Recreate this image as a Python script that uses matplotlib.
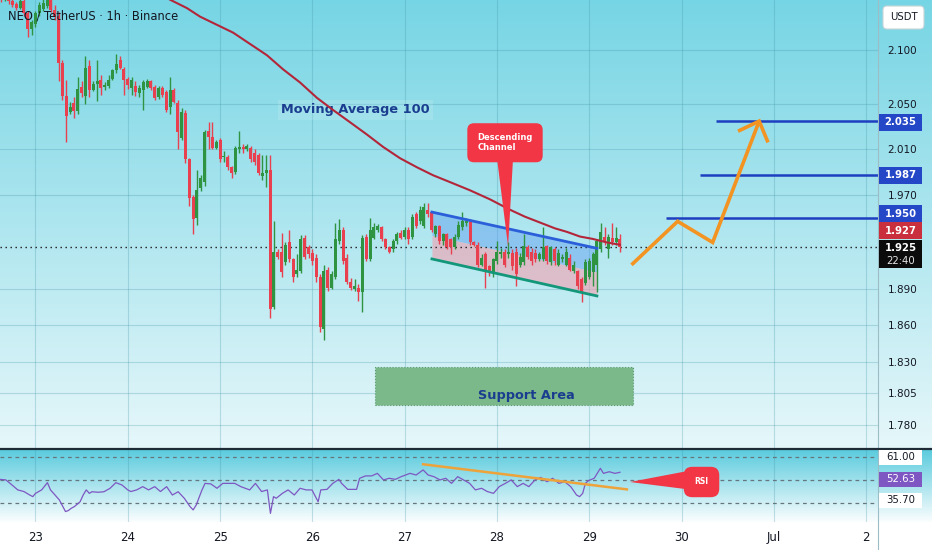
import numpy as np
import matplotlib
matplotlib.use("Agg")
import matplotlib.pyplot as plt
from matplotlib.patches import Polygon, Rectangle, FancyBboxPatch
from matplotlib.lines import Line2D
from matplotlib.transforms import IdentityTransform
from matplotlib.ticker import NullLocator, NullFormatter, FixedLocator, FixedFormatter

# ---------------- data (hourly candles, hour 0 = 23 Jun 00:00) ----------------
start_hour = -9
opens = [2.154,2.149,2.152,2.146,2.143,2.139,2.146,2.134,2.119,2.124,
         2.134,2.138,2.141,2.148,2.137,2.132,2.088,2.058,2.043,2.051,
         2.044,2.066,2.058,2.085,2.063,2.069,2.072,2.066,2.067,2.073,
         2.081,2.091,2.082,2.073,2.065,2.067,2.060,2.063,2.066,2.071,
         2.066,2.057,2.065,2.061,2.048,2.063,2.051,2.020,2.042,2.001,
         1.968,1.950,1.976,1.981,2.026,2.021,2.011,2.018,2.003,2.003,
         1.994,1.990,2.010,2.012,2.010,2.011,2.007,2.005,1.986,1.989,
         1.992,1.875,1.921,1.921,1.912,1.929,1.915,1.902,1.905,1.933,
         1.925,1.920,1.916,1.900,1.857,1.906,1.891,1.900,1.930,1.940,
         1.916,1.896,1.890,1.891,1.887,1.934,1.915,1.933,1.940,1.942,
         1.932,1.925,1.923,1.930,1.937,1.934,1.940,1.934,1.953,1.947,
         1.943,1.957,1.955,1.936,1.943,1.930,1.936,1.932,1.925,1.934,
         1.942,1.946,1.947,1.929,1.927,1.910,1.919,1.909,1.902,1.913,
         1.919,1.921,1.919,1.920,1.921,1.910,1.912,1.925,1.921,1.920,
         1.915,1.915,1.926,1.912,1.923,1.910,1.915,1.910,1.916,1.905,
         1.905,1.898,1.895,1.900,1.904,1.910,1.923,1.934,1.923,1.933,
         1.929,1.932]
highs = [2.160,2.156,2.154,2.148,2.145,2.150,2.150,2.136,2.128,2.136,
         2.145,2.149,2.152,2.154,2.142,2.135,2.091,2.072,2.052,2.057,
         2.075,2.071,2.094,2.091,2.071,2.091,2.077,2.070,2.077,2.082,
         2.096,2.094,2.084,2.075,2.075,2.071,2.068,2.072,2.073,2.072,
         2.068,2.067,2.067,2.063,2.075,2.065,2.054,2.047,2.045,2.002,
         1.970,1.992,1.987,2.027,2.034,2.034,2.018,2.020,2.008,2.005,
         1.995,2.013,2.026,2.015,2.015,2.013,2.010,2.007,2.005,2.005,
         2.005,1.947,1.923,1.937,1.929,1.940,1.916,1.919,1.935,1.935,
         1.927,1.923,1.919,1.902,1.910,1.908,1.905,1.946,1.949,1.942,
         1.919,1.899,1.898,1.894,1.935,1.936,1.950,1.946,1.945,1.943,
         1.933,1.926,1.932,1.938,1.940,1.942,1.942,1.953,1.955,1.960,
         1.963,1.963,1.956,1.944,1.944,1.937,1.937,1.933,1.936,1.947,
         1.955,1.950,1.949,1.930,1.929,1.919,1.921,1.910,1.916,1.930,
         1.924,1.923,1.929,1.923,1.924,1.920,1.936,1.927,1.924,1.923,
         1.921,1.942,1.927,1.926,1.925,1.923,1.919,1.924,1.919,1.913,
         1.906,1.900,1.915,1.916,1.921,1.932,1.946,1.942,1.936,1.946,
         1.942,1.936]
lows = [2.145,2.146,2.143,2.140,2.137,2.138,2.132,2.112,2.114,2.121,
        2.132,2.136,2.139,2.135,2.128,2.071,2.054,2.016,2.041,2.038,
        2.041,2.057,2.050,2.057,2.062,2.053,2.059,2.063,2.065,2.072,
        2.079,2.082,2.059,2.064,2.059,2.058,2.057,2.045,2.065,2.063,
        2.054,2.055,2.057,2.043,2.041,2.051,2.010,2.018,1.998,1.960,
        1.936,1.944,1.973,1.978,2.010,2.010,2.010,1.999,1.999,1.992,
        1.985,1.988,2.007,2.007,2.008,1.999,1.996,1.987,1.983,1.977,
        1.866,1.873,1.915,1.900,1.910,1.912,1.896,1.900,1.903,1.915,
        1.916,1.910,1.896,1.854,1.848,1.888,1.890,1.898,1.928,1.911,
        1.894,1.889,1.888,1.880,1.871,1.913,1.913,1.932,1.938,1.930,
        1.923,1.920,1.921,1.928,1.932,1.932,1.928,1.932,1.941,1.945,
        1.941,1.951,1.938,1.934,1.928,1.927,1.923,1.919,1.923,1.932,
        1.940,1.943,1.927,1.926,1.908,1.909,1.891,1.901,1.900,1.911,
        1.916,1.908,1.916,1.906,1.892,1.908,1.910,1.915,1.910,1.912,
        1.913,1.913,1.911,1.910,1.910,1.909,1.912,1.909,1.905,1.903,
        1.890,1.879,1.893,1.898,1.892,1.887,1.921,1.927,1.916,1.927,
        1.927,1.921]
closes = [2.149,2.152,2.146,2.142,2.139,2.146,2.134,2.119,2.126,2.134,
          2.142,2.144,2.148,2.137,2.132,2.088,2.058,2.040,2.048,2.044,
          2.064,2.060,2.083,2.063,2.069,2.071,2.065,2.068,2.072,2.081,
          2.087,2.083,2.072,2.068,2.072,2.061,2.065,2.070,2.071,2.065,
          2.056,2.065,2.059,2.045,2.063,2.052,2.025,2.043,2.001,1.967,
          1.949,1.974,1.985,2.025,2.021,2.011,2.016,2.001,2.003,1.994,
          1.989,2.011,2.012,2.010,2.013,2.001,1.999,1.989,1.989,1.992,
          1.873,1.921,1.917,1.904,1.927,1.915,1.900,1.906,1.932,1.917,
          1.919,1.913,1.900,1.858,1.905,1.891,1.902,1.932,1.940,1.913,
          1.896,1.891,1.892,1.887,1.933,1.915,1.940,1.942,1.943,1.932,
          1.925,1.921,1.930,1.936,1.933,1.940,1.932,1.951,1.943,1.957,
          1.959,1.953,1.940,1.943,1.930,1.936,1.925,1.925,1.934,1.944,
          1.947,1.947,1.929,1.927,1.910,1.916,1.904,1.904,1.915,1.921,
          1.921,1.910,1.921,1.909,1.902,1.917,1.926,1.917,1.913,1.915,
          1.919,1.925,1.913,1.925,1.913,1.920,1.917,1.921,1.906,1.910,
          1.892,1.888,1.912,1.913,1.919,1.930,1.938,1.929,1.934,1.929,
          1.933,1.925]

ma_hours = [33.0, 35.0, 39.4, 42.8, 51.4, 60.2, 64.4, 68.8, 73.2, 77.4, 81.8, 86.2,
            90.4, 94.8, 99.2, 103.4, 107.8, 112.9, 118.2, 123.4, 127.3, 131.2,
            135.1, 138.2, 141.6, 144.9, 148.6, 152.0]
ma_values = [2.151, 2.147, 2.139, 2.131, 2.116, 2.095, 2.082, 2.070, 2.056, 2.045,
             2.034, 2.023, 2.012, 2.002, 1.994, 1.987, 1.981, 1.974, 1.966, 1.957,
             1.951, 1.946, 1.941, 1.938, 1.934, 1.932, 1.929, 1.927]

rsi_hours = [-9.2,-7.7,-6.1,-4.6,-3.0,-1.5,-0.7,0.0,1.6,3.1,
             3.9,4.7,6.2,7.8,8.5,9.3,10.1,11.6,12.4,13.2,
             14.0,14.7,16.3,17.8,19.4,20.9,22.5,24.0,24.8,26.3,
             27.9,29.4,31.0,32.5,34.1,35.6,37.1,38.7,40.2,41.0,
             41.8,43.3,44.1,45.6,47.2,48.7,50.3,51.8,53.4,55.7,
             57.2,58.8,60.3,61.1,61.9,62.6,64.2,65.7,67.3,68.8,
             70.4,71.9,73.5,74.2,75.8,77.3,78.9,79.6,81.2,83.5,
             84.3,85.8,87.4,88.9,90.5,92.0,93.6,95.1,97.4,99.0,
             100.8,102.1,103.6,105.2,106.7,108.2,109.8,111.3,112.9,114.4,
             116.0,117.5,119.1,120.6,122.2,123.7,125.3,126.8,128.3,129.9,
             131.4,133.0,134.5,136.1,137.6,139.2,140.7,141.5,142.3,143.0,
             143.8,145.3,146.9,147.7,149.2,150.7,152.0]
rsi_values = [48.7,48.4,45.6,42.9,42.0,40.1,39.2,41.0,42.9,46.9,
              42.9,41.0,37.4,31.0,31.5,32.8,33.7,36.4,40.1,42.9,
              41.0,41.9,41.6,41.9,43.8,46.9,45.6,42.9,42.0,42.9,
              44.7,42.9,44.7,42.0,44.7,40.1,41.9,38.3,33.7,31.9,
              34.6,42.9,46.5,46.2,43.8,46.5,46.5,46.5,44.7,42.9,
              46.5,42.0,42.9,30.0,39.2,38.3,41.0,42.9,40.1,43.8,
              42.9,42.9,36.4,42.9,43.2,46.5,48.7,46.5,43.2,43.2,
              49.3,50.6,50.6,52.0,48.4,49.3,48.7,50.2,52.0,51.1,
              53.9,51.1,50.2,48.4,49.3,46.5,50.2,48.4,46.5,42.9,
              43.8,42.0,41.0,44.7,46.5,48.4,44.7,46.5,44.7,48.4,
              49.8,47.4,49.3,46.5,47.4,44.7,40.1,39.2,41.0,46.5,
              48.0,49.3,54.8,52.0,52.9,52.0,52.6]
rsi_bands = [61.00, 48.35, 35.70]
rsi_last = 52.63
rsi_trend_hours = [100.8, 153.8]
rsi_trend_values = [57.0, 43.2]

price_ticks = [2.100, 2.050, 2.010, 1.970, 1.890, 1.860, 1.830, 1.805, 1.780]
price_tick_labels = ["2.100", "2.050", "2.010", "1.970", "1.890", "1.860", "1.830", "1.805", "1.780"]
day_hours = [0, 24, 48, 72, 96, 120, 144, 168, 192, 216]
day_labels = ["23", "24", "25", "26", "27", "28", "29", "30", "Jul", "2"]

channel_hours = [103.1, 146.0]
channel_top = [1.955, 1.924]
channel_mid = [1.935, 1.904]
channel_bottom = [1.915, 1.884]

target_levels = [2.035, 1.987, 1.950]
target_start_hours = [176.9, 172.8, 163.9]

path_hours = [155.0, 167.0, 176.1, 188.2]
path_prices = [1.910, 1.947, 1.929, 2.035]
head_hours = [182.7, 188.2, 190.5]
head_prices = [2.026, 2.035, 2.016]

support_hours = [88.3, 155.3]
support_prices = [1.7956, 1.8257]

last_price = 1.925
ma_last = 1.927

# ---------------- figure ----------------
W, H = 932, 550
fig = plt.figure(figsize=(W / 100, H / 100), dpi=100)

# background gradients
img = np.ones((H, 2, 3))
top = np.array([118, 213, 228]) / 255
bot = np.array([230, 247, 250]) / 255
g = np.linspace(0, 1, 449)[:, None]
img[:449] = (top * (1 - g) + bot * g)[:, None, :]
rt = np.array([92, 204, 222]) / 255
rb = np.array([250, 253, 254]) / 255
g2 = np.linspace(0, 1, 72)[:, None]
img[450:522] = (rt * (1 - g2) + rb * g2)[:, None, :]
bg = fig.add_axes([0, 0, 1, 1], zorder=-1)
bg.imshow(img, aspect="auto", extent=(0, 1, 0, 1), interpolation="bilinear")
bg.axis("off")

XMIN, XMAX = -9.23, 219.1
grid_col = "#3f93a6"

# ---------------- main price pane ----------------
ax = fig.add_axes([0, 101 / 550, 878 / 932, 449 / 550])
ax.patch.set_alpha(0)
ax.set_yscale("log")
ax.set_xlim(XMIN, XMAX)
ax.set_ylim(1.7610, 2.1467)
for s in ax.spines.values():
    s.set_visible(False)
ax.yaxis.tick_right()
ax.yaxis.set_major_locator(FixedLocator(price_ticks))
ax.yaxis.set_major_formatter(FixedFormatter(price_tick_labels))
ax.yaxis.set_minor_locator(NullLocator())
ax.yaxis.set_minor_formatter(NullFormatter())
ax.set_xticks(day_hours)
ax.tick_params(axis="x", length=0, labelbottom=False)
ax.tick_params(axis="y", length=0, pad=7, labelsize=7.5, labelcolor="#131722")
ax.grid(True, color=grid_col, alpha=0.28, lw=0.8)
ax.set_axisbelow(True)

# support area
ax.add_patch(Rectangle((support_hours[0], support_prices[0]),
                       support_hours[1] - support_hours[0],
                       support_prices[1] - support_prices[0],
                       fc="#7bb98a", ec="#5b9a70", lw=0.8, ls=":", zorder=2))
ax.text(127.7, 1.8027, "Support Area", ha="center", va="center", fontsize=9.3,
        fontweight="bold", color="#1b3d8f", zorder=3)

# descending channel
ax.fill_between(channel_hours, channel_mid, channel_top, color="#5c9cf0", alpha=0.45, lw=0, zorder=2)
ax.fill_between(channel_hours, channel_bottom, channel_mid, color="#f4a0b0", alpha=0.6, lw=0, zorder=2)

# candles
o = np.array(opens); c = np.array(closes); hi = np.array(highs); lo = np.array(lows)
hrs = np.arange(len(c)) + start_hour
cols = np.where(c >= o, "#2f9441", "#e8404e")
ax.vlines(hrs, lo, hi, colors=cols, lw=1.0, zorder=4)
ax.bar(hrs, np.maximum(np.abs(c - o), 0.0009), bottom=np.minimum(o, c), width=0.78,
       color=cols, lw=0, zorder=4)

ax.plot(channel_hours, channel_top, color="#2b5fd9", lw=2, zorder=5)
ax.plot(channel_hours, channel_bottom, color="#13977a", lw=2, zorder=5)

# current price dotted line
ax.axhline(last_price, color="#1a1a1a", lw=1.0, ls=(0, (1, 2.6)), zorder=3)

# moving average
ax.text(83.3, 2.0452, "Moving Average 100", ha="center", va="center", fontsize=9.3,
        fontweight="bold", color="#1b3d8f", zorder=5,
        bbox=dict(boxstyle="square,pad=0.25", fc="white", alpha=0.13, ec="none"))
ax.plot(ma_hours, ma_values, color="#b3263a", lw=1.5, zorder=6)

# target levels
ax.hlines(target_levels, target_start_hours, XMAX, color="#1d3fc0", lw=1.8, zorder=5)

# projected path
ax.plot(path_hours, path_prices, color="#f39322", lw=2.6, solid_joinstyle="miter",
        solid_capstyle="butt", zorder=6)
ax.plot(head_hours, head_prices, color="#f39322", lw=2.6, solid_joinstyle="miter",
        solid_capstyle="butt", zorder=6)

# descending channel callout
ax.add_patch(Polygon([[120.0, 2.0025], [124.2, 2.0025], [122.9, 1.9255]], closed=True,
                     fc="#f23645", ec="none", zorder=7))
ax.text(122.1, 2.0157, "Descending\nChannel", ha="center", va="center", multialignment="left",
        fontsize=6, fontweight="bold", color="white", zorder=8, linespacing=1.15,
        bbox=dict(boxstyle="round,pad=1.2,rounding_size=0.8", fc="#f23645", ec="none"))

# ---------------- RSI pane ----------------
rax = fig.add_axes([0, 28 / 550, 878 / 932, 72 / 550])
rax.patch.set_alpha(0)
rax.set_xlim(XMIN, XMAX)
rax.set_ylim(25.25, 64.85)
for s in rax.spines.values():
    s.set_visible(False)
rax.set_xticks(day_hours)
rax.set_xticklabels(day_labels)
rax.set_yticks([])
rax.tick_params(axis="x", length=0, pad=6.5, labelsize=8.5, labelcolor="#131722")
rax.grid(True, axis="x", color=grid_col, alpha=0.28, lw=0.8)
rax.set_axisbelow(True)
for v in rsi_bands:
    rax.axhline(v, color="#66767f", lw=0.9, ls=(0, (3, 3)), zorder=2)
rax.plot(rsi_hours, rsi_values, color="#7e57c2", lw=0.9, zorder=4)
rax.plot(rsi_trend_hours, rsi_trend_values, color="#eea23a", lw=1.8, zorder=5)
rax.add_patch(Polygon([[154.6, 47.25], [171.0, 53.85], [171.0, 42.85]], closed=True,
                      fc="#f23645", ec="none", zorder=6))
rax.text(173.2, 47.25, "RSI", ha="center", va="center", fontsize=5.5, fontweight="bold",
         color="white", zorder=7,
         bbox=dict(boxstyle="round,pad=1.4,rounding_size=1.1", fc="#f23645", ec="none"))

# ---------------- separators ----------------
fig.add_artist(Line2D([878, 878], [0, 550], transform=IdentityTransform(), color="#9cbcc6",
                      lw=0.8, zorder=1))
fig.add_artist(Line2D([0, 932], [101, 101], transform=IdentityTransform(), color="#1e2a35",
                      lw=1.6, zorder=15))

# ---------------- scale labels ----------------
def scale_label(axis, value, text, fc, tc, dy=0, h=17, z=20, ec="none", bold=True):
    yd = axis.transData.transform((0, value))[1] + dy
    fig.add_artist(Rectangle((879, yd - h / 2), 43, h, transform=IdentityTransform(),
                             fc=fc, ec=ec, lw=0.6, zorder=z))
    fig.text(900.5, yd, text, transform=IdentityTransform(), ha="center", va="center",
             fontsize=7.3, color=tc, fontweight="bold" if bold else "normal", zorder=z + 1)
    return yd

scale_label(ax, target_levels[0], "2.035", "#2447c8", "white", dy=-1)
scale_label(ax, target_levels[1], "1.987", "#2447c8", "white", dy=0)
scale_label(ax, target_levels[2], "1.950", "#2447c8", "white", dy=4, z=20)
scale_label(ax, ma_last, "1.927", "#c92f3c", "white", dy=14, z=22)
yd = ax.transData.transform((0, last_price))[1] - 7
fig.add_artist(Rectangle((879, yd - 14), 43, 28, transform=IdentityTransform(),
                         fc="#0b0b0b", ec="none", zorder=24))
fig.text(900.5, yd + 6.5, "1.925", transform=IdentityTransform(), ha="center", va="center",
         fontsize=7.3, color="white", fontweight="bold", zorder=25)
fig.text(900.5, yd - 7, "22:40", transform=IdentityTransform(), ha="center", va="center",
         fontsize=7.3, color="#e6e6e6", zorder=25)

scale_label(rax, rsi_bands[0], "61.00", "white", "#131722", dy=0, h=15, bold=False)
scale_label(rax, rsi_bands[2], "35.70", "white", "#131722", dy=3, h=15, bold=False)
scale_label(rax, rsi_last, "52.63", "#7e57c2", "white", dy=-7, h=15, z=23, bold=False)

# USDT box
fig.add_artist(FancyBboxPatch((883, 521), 41, 23, boxstyle="round,pad=0,rounding_size=4",
                              transform=IdentityTransform(), fc="white", ec="#c9d4d9",
                              lw=0.8, zorder=20))
fig.text(903.5, 532.5, "USDT", transform=IdentityTransform(), ha="center", va="center",
         fontsize=7.3, color="#131722", zorder=21)

# title
fig.text(8, 534, "NEO / TetherUS · 1h · Binance", transform=IdentityTransform(),
         ha="left", va="center", fontsize=8.3, color="#131722", zorder=21)

fig.savefig("out.png", dpi=100)
